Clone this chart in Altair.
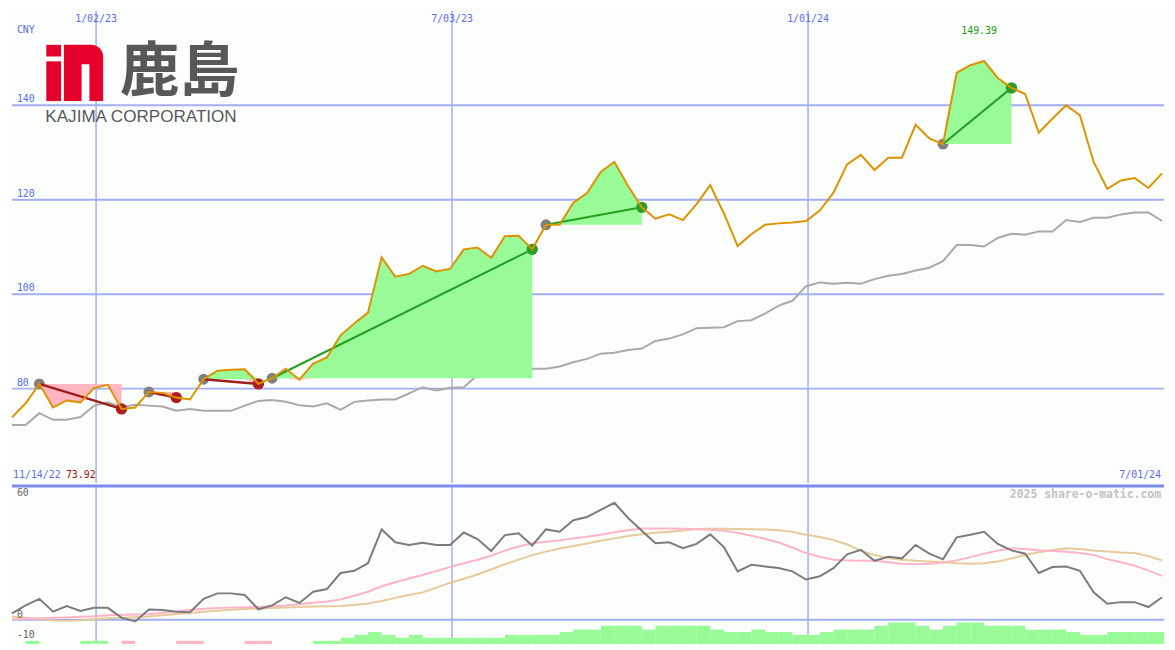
import altair as alt
import pandas as pd

# ---------------- layout ----------------
W = 1159
HT = 475
HB = 159
SX = W / 1175
SY = (HT + HB) / 650

# ---------------- data ----------------
START = "2022-11-20"
END = "2024-07-01"
N_WEEKS = 85

price = [73.92, 76.9, 81.0, 76.0, 77.5, 77.1, 80.1, 80.8, 75.7, 76.0,
         79.3, 79.1, 78.1, 77.7, 82.0, 83.8, 84.0, 84.1, 81.0, 82.2,
         84.2, 81.9, 85.3, 86.6, 91.3, 93.8, 96.1, 107.8, 103.7, 104.3,
         106.0, 104.8, 105.4, 109.5, 109.9, 107.7, 112.3, 112.4, 109.5, 114.7,
         114.7, 119.4, 121.4, 125.9, 128.0, 122.9, 118.4, 116.0, 116.9, 115.7,
         119.1, 123.1, 117.1, 110.2, 112.7, 114.7, 115.0, 115.2, 115.5, 117.7,
         121.5, 127.5, 129.5, 126.3, 128.9, 128.9, 135.9, 133.0, 131.8, 146.9,
         148.5, 149.39, 145.8, 143.7, 142.4, 134.2, 137.2, 140.0, 137.9, 128.0,
         122.3, 124.1, 124.6, 122.5, 125.6]

bench = [72.3, 72.3, 74.8, 73.4, 73.4, 74.0, 76.4, 77.1, 76.1, 76.6,
         76.4, 76.2, 75.3, 75.7, 75.3, 75.3, 75.3, 76.4, 77.4, 77.6,
         77.2, 76.5, 76.2, 76.9, 75.5, 77.2, 77.5, 77.7, 77.7, 79.0,
         80.3, 79.6, 80.2, 80.3, 82.9, 84.2, 83.5, 83.3, 84.2, 84.2,
         84.7, 85.6, 86.3, 87.4, 87.6, 88.2, 88.5, 90.1, 90.6, 91.5,
         92.8, 92.9, 93.0, 94.3, 94.5, 95.9, 97.6, 98.6, 101.7, 102.5,
         102.2, 102.4, 102.2, 103.2, 103.9, 104.3, 105.0, 105.6, 107.0, 110.4,
         110.4, 110.1, 111.9, 112.8, 112.6, 113.3, 113.3, 115.7, 115.3, 116.2,
         116.2, 116.9, 117.3, 117.3, 115.5]

osc = [3.2, 7.1, 10.3, 4.0, 6.8, 4.4, 5.9, 5.9, 1.1, -0.8,
       5.1, 4.8, 4.0, 3.7, 10.3, 13.0, 13.0, 12.2, 5.2, 7.1,
       11.1, 8.3, 13.8, 15.1, 23.0, 24.1, 27.8, 44.4, 38.1, 36.8,
       37.8, 36.8, 36.8, 42.9, 39.7, 33.8, 41.6, 42.5, 36.5, 44.4,
       43.3, 48.9, 50.5, 54.0, 57.5, 50.0, 43.7, 37.6, 38.1, 35.2,
       37.3, 42.0, 35.7, 23.8, 27.0, 26.2, 25.5, 23.8, 19.8, 21.4,
       25.4, 32.2, 34.4, 29.0, 31.0, 30.2, 36.8, 32.5, 29.7, 40.5,
       41.8, 43.2, 37.3, 34.1, 32.5, 23.0, 25.9, 26.2, 24.1, 13.5,
       7.9, 8.7, 8.7, 6.3, 11.1]

osc_fast = [0.3, 0.5, 0.7, 1.0, 1.2, 1.5, 1.8, 2.3, 2.5, 2.6,
            2.7, 3.5, 4.2, 4.8, 5.4, 5.8, 6.0, 6.2, 6.3, 6.7,
            7.1, 7.7, 8.4, 9.0, 10.0, 11.8, 13.8, 16.5, 18.5, 20.3,
            22.0, 24.0, 25.9, 27.8, 29.5, 31.5, 34.0, 36.0, 37.6, 38.3,
            39.0, 40.0, 40.8, 41.8, 43.0, 44.0, 44.8, 44.9, 44.9, 44.7,
            44.5, 44.2, 43.8, 42.8, 41.3, 39.8, 38.0, 35.5, 32.8, 31.0,
            29.5, 29.2, 29.0, 29.0, 28.3, 27.5, 27.3, 27.5, 28.2, 29.2,
            30.8, 32.5, 34.0, 35.2, 34.8, 34.2, 33.8, 33.4, 32.8, 31.9,
            29.8, 28.3, 26.6, 24.2, 21.6]

osc_slow = [1.6, 1.0, 0.5, -0.3, -0.5, -0.2, 0.3, 0.8, 1.0, 1.3,
            1.6, 2.3, 2.9, 3.4, 4.0, 4.5, 5.0, 5.3, 5.6, 5.8,
            6.0, 6.3, 6.5, 6.7, 6.8, 7.3, 8.0, 9.3, 10.8, 12.2,
            13.5, 15.8, 18.2, 20.2, 22.3, 24.7, 27.3, 29.6, 31.8, 33.5,
            35.0, 36.3, 37.5, 38.8, 40.0, 41.2, 42.0, 42.8, 43.3, 43.9,
            44.6, 44.7, 44.7, 44.6, 44.5, 44.4, 44.0, 43.2, 41.8, 40.7,
            39.2, 37.0, 34.0, 31.8, 30.3, 29.5, 29.0, 28.7, 28.3, 27.8,
            27.6, 27.8, 28.6, 30.2, 31.8, 33.2, 34.3, 35.1, 34.8, 34.0,
            33.6, 33.1, 32.8, 31.3, 29.2]

hist = [0, 1.6, 0, 0, 0, 1.6, 1.6, 0, -1.6, 0,
        0, 0, -1.6, -1.6, 0, 0, 0, -1.6, -1.6, 0,
        0, 0, 1.6, 1.6, 3.1, 4.5, 5.9, 4.5, 3.1, 4.5,
        3.1, 3.1, 3.1, 3.1, 3.1, 3.1, 4.5, 4.5, 4.5, 4.5,
        5.9, 7.1, 7.1, 9.0, 9.0, 9.0, 7.1, 9.0, 9.0, 9.0,
        9.0, 7.1, 5.9, 5.9, 7.1, 5.9, 5.9, 4.5, 4.5, 5.9,
        7.1, 7.1, 7.1, 9.0, 10.6, 10.6, 9.0, 7.1, 9.0, 10.6,
        10.6, 9.0, 9.0, 9.0, 7.1, 7.1, 7.1, 5.9, 4.5, 4.5,
        5.9, 5.9, 5.9, 5.9, 5.9]

buy_idx = [2, 10, 14, 19, 39, 68]
sell_idx = [8, 12, 18, 38, 46, 73]

grid_dates = ["2023-01-02", "2023-07-03", "2024-01-01"]
grid_labels = ["1/02/23", "7/03/23", "1/01/24"]
price_ticks = [80, 100, 120, 140]
price_tick_labels = ["80", "100", "120", "140"]
osc_ticks = [60, 0, -10]
osc_tick_labels = ["60", "0", "-10"]

PRICE_DOMAIN = [60, 160]
OSC_DOMAIN = [-11.9, 65.7]

# ---------------- styles ----------------
BG = "#fcfefc"
GRID = "#a3aef3"
DIVIDER = "#7b8bef"
ORANGE = "#dd9200"
BENCH = "#a9a9a9"
GREEN_FILL = "#98fb98"
PINK_FILL = "#ffb6c1"
GREEN_LINE = "#249f24"
RED_LINE = "#a11c1c"
GREEN_DOT = "#2a9d2a"
RED_DOT = "#ad1f1f"
BUY_DOT = "#808080"
OSC_C = "#7c7c7c"
PINK_C = "#ffb3c6"
TAN_C = "#e6ca9a"
BLUE_TXT = "#5b6cf0"
MONO = "DejaVu Sans Mono"

# ---------------- frames ----------------
t0 = pd.Timestamp(START)
dates = pd.date_range(START, periods=N_WEEKS, freq="7D")
days = [(d - t0).days for d in dates]
end_day = (pd.Timestamp(END) - t0).days

XS = alt.Scale(domain=[0, end_day], nice=False, zero=False)
YP = alt.Scale(domain=PRICE_DOMAIN, nice=False, zero=False)
YO = alt.Scale(domain=OSC_DOMAIN, nice=False, zero=False)

series = pd.DataFrame({"day": days, "price": price, "bench": bench,
                       "osc": osc, "fast": osc_fast, "slow": osc_slow})

grid_df = pd.DataFrame({"day": [(pd.Timestamp(g) - t0).days for g in grid_dates],
                        "label": grid_labels})

fill_rows, line_rows, buy_rows, sell_rows = [], [], [], []
for t, (b, s) in enumerate(zip(buy_idx, sell_idx)):
    res = "gain" if price[s] >= price[b] else "loss"
    for k in range(b, s + 1):
        fill_rows.append({"trade": t, "day": days[k], "buy": price[b],
                          "hi": max(price[k], price[b]), "lo": min(price[k], price[b])})
    line_rows.append({"trade": t, "day": days[b], "price": price[b], "res": res})
    line_rows.append({"trade": t, "day": days[s], "price": price[s], "res": res})
    buy_rows.append({"day": days[b], "price": price[b]})
    sell_rows.append({"day": days[s], "price": price[s], "res": res})
fill_df = pd.DataFrame(fill_rows)
tline_df = pd.DataFrame(line_rows)
buy_df = pd.DataFrame(buy_rows)
sell_df = pd.DataFrame(sell_rows)

bars = []
for k in range(N_WEEKS):
    if hist[k] != 0:
        bars.append({"day": days[k], "day2": days[k] + 7,
                     "top": OSC_DOMAIN[0] + abs(hist[k]), "base": OSC_DOMAIN[0],
                     "sign": "pos" if hist[k] > 0 else "neg"})
bar_df = pd.DataFrame(bars)

kmax = max(range(N_WEEKS), key=lambda i: price[i])
max_df = pd.DataFrame({"day": [days[kmax]], "label": [f"{price[kmax]:.2f}"]})


def X(field="day"):
    return alt.X(f"{field}:Q", scale=XS, axis=None)


def txt(s, x, y, color, size=10, align="left", baseline="middle", font=MONO,
        weight="normal"):
    return alt.Chart(pd.DataFrame({"t": [s]})).mark_text(
        align=align, baseline=baseline, font=font, fontSize=size,
        fontWeight=weight, color=color).encode(
        text="t:N", x=alt.value(x), y=alt.value(y))


def piece(x1, y1, x2, y2, color, **kw):
    return alt.Chart(pd.DataFrame({"a": [0]})).mark_rect(color=color, **kw).encode(
        x=alt.value(x1 * SX), x2=alt.value(x2 * SX),
        y=alt.value(y1 * SY), y2=alt.value(y2 * SY))


# ---------------- top panel ----------------
hgrid = alt.Chart(pd.DataFrame({"v": price_ticks})).mark_rule(
    color=GRID, strokeWidth=2).encode(y=alt.Y("v:Q", scale=YP, axis=None))
vgrid = alt.Chart(grid_df).mark_rule(color=GRID, strokeWidth=1.5).encode(x=X())

bench_line = alt.Chart(series).mark_line(color=BENCH, strokeWidth=2).encode(
    x=X(), y=alt.Y("bench:Q", scale=YP, axis=None))

buy_pts = alt.Chart(buy_df).mark_circle(size=120, color=BUY_DOT, opacity=1).encode(
    x=X(), y=alt.Y("price:Q", scale=YP, axis=None))

green_fill = alt.Chart(fill_df).mark_area(color=GREEN_FILL, opacity=1).encode(
    x=X(), y=alt.Y("hi:Q", scale=YP, axis=None, stack=None), y2="buy:Q",
    detail="trade:N")
pink_fill = alt.Chart(fill_df).mark_area(color=PINK_FILL, opacity=1).encode(
    x=X(), y=alt.Y("lo:Q", scale=YP, axis=None, stack=None), y2="buy:Q",
    detail="trade:N")

gain_lines = alt.Chart(tline_df[tline_df.res == "gain"]).mark_line(
    color=GREEN_LINE, strokeWidth=2).encode(
    x=X(), y=alt.Y("price:Q", scale=YP, axis=None), detail="trade:N")
loss_lines = alt.Chart(tline_df[tline_df.res == "loss"]).mark_line(
    color=RED_LINE, strokeWidth=2.5).encode(
    x=X(), y=alt.Y("price:Q", scale=YP, axis=None), detail="trade:N")

gain_pts = alt.Chart(sell_df[sell_df.res == "gain"]).mark_circle(
    size=130, color=GREEN_DOT, opacity=1).encode(
    x=X(), y=alt.Y("price:Q", scale=YP, axis=None))
loss_pts = alt.Chart(sell_df[sell_df.res == "loss"]).mark_circle(
    size=130, color=RED_DOT, opacity=1).encode(
    x=X(), y=alt.Y("price:Q", scale=YP, axis=None))

price_line = alt.Chart(series).mark_line(color=ORANGE, strokeWidth=2).encode(
    x=X(), y=alt.Y("price:Q", scale=YP, axis=None))

ytick_txt = alt.Chart(pd.DataFrame({"v": price_ticks, "lab": price_tick_labels})).mark_text(
    align="left", baseline="bottom", dy=-1, font=MONO, fontSize=10, color=BLUE_TXT).encode(
    x=alt.value(5 * SX), y=alt.Y("v:Q", scale=YP, axis=None), text="lab:N")

date_txt = alt.Chart(grid_df).mark_text(
    align="center", baseline="middle", font=MONO, fontSize=10, color=BLUE_TXT).encode(
    x=X(), y=alt.value(8 * SY), text="label:N")

max_txt = alt.Chart(max_df).mark_text(
    align="center", baseline="middle", font=MONO, fontSize=10, color="#229922", dx=-5).encode(
    x=X(), y=alt.value(21 * SY), text="label:N")

logo = [
    piece(35, 35, 50, 47, "#e4002b"),
    piece(35, 52, 50, 93, "#e4002b"),
    piece(53, 35, 93, 93, "#e4002b", cornerRadiusTopRight=12),
    piece(71, 55, 79, 93, BG),
    txt("鹿島", 171 * SX, 64 * SY, "#58585a", size=60, align="center",
        font="Noto Sans CJK JP", weight="bold"),
    txt("KAJIMA CORPORATION", 34 * SX, 109 * SY, "#58585a", size=17.2,
        font="Liberation Sans"),
]

top = alt.layer(
    hgrid, vgrid, bench_line, buy_pts, green_fill, pink_fill,
    gain_lines, loss_lines, gain_pts, loss_pts, price_line,
    ytick_txt, date_txt, max_txt,
    txt("CNY", 5 * SX, 20 * SY, BLUE_TXT),
    txt("11/14/22", 1 * SX, 479 * SY, BLUE_TXT),
    txt(f"{price[0]:.2f}", 55 * SX, 479 * SY, "#a01010"),
    txt("7/01/24", 1172 * SX, 479 * SY, BLUE_TXT, align="right"),
    *logo,
).properties(width=W, height=HT)

# ---------------- bottom panel ----------------
vgrid_b = alt.Chart(grid_df).mark_rule(color=GRID, strokeWidth=1.5).encode(x=X())
zero_rule = alt.Chart(pd.DataFrame({"v": [0]})).mark_rule(color=GRID, strokeWidth=2).encode(
    y=alt.Y("v:Q", scale=YO, axis=None))

bars_pos = alt.Chart(bar_df[bar_df.sign == "pos"]).mark_rect(color=GREEN_FILL, clip=True).encode(
    x=X(), x2="day2:Q", y=alt.Y("top:Q", scale=YO, axis=None), y2="base:Q")
bars_neg = alt.Chart(bar_df[bar_df.sign == "neg"]).mark_rect(color=PINK_FILL, clip=True).encode(
    x=X(), x2="day2:Q", y=alt.Y("top:Q", scale=YO, axis=None), y2="base:Q")

slow_line = alt.Chart(series).mark_line(color=TAN_C, strokeWidth=2).encode(
    x=X(), y=alt.Y("slow:Q", scale=YO, axis=None))
fast_line = alt.Chart(series).mark_line(color=PINK_C, strokeWidth=2).encode(
    x=X(), y=alt.Y("fast:Q", scale=YO, axis=None))
osc_line = alt.Chart(series).mark_line(color=OSC_C, strokeWidth=2).encode(
    x=X(), y=alt.Y("osc:Q", scale=YO, axis=None))

divider = alt.Chart(pd.DataFrame({"v": [OSC_DOMAIN[1]]})).mark_rule(
    color=DIVIDER, strokeWidth=3).encode(y=alt.Y("v:Q", scale=YO, axis=None))

otick_txt = alt.Chart(pd.DataFrame({"v": osc_ticks, "lab": osc_tick_labels})).mark_text(
    align="left", baseline="bottom", dy=0, font=MONO, fontSize=10, color="#666666").encode(
    x=alt.value(5 * SX), y=alt.Y("v:Q", scale=YO, axis=None), text="lab:N")

bottom = alt.layer(
    vgrid_b, zero_rule, bars_pos, bars_neg, slow_line, fast_line, osc_line,
    divider, otick_txt,
    txt("2025 share-o-matic.com", 1172 * SX, 9 * SY, "#c2c2c2", size=11.5,
        align="right", weight="bold"),
).properties(width=W, height=HB)

chart = alt.vconcat(top, bottom, spacing=0).properties(
    padding=0, background=BG
).configure_view(stroke=None)

chart.save("out.html", embed_options={"renderer": "svg", "actions": False})
